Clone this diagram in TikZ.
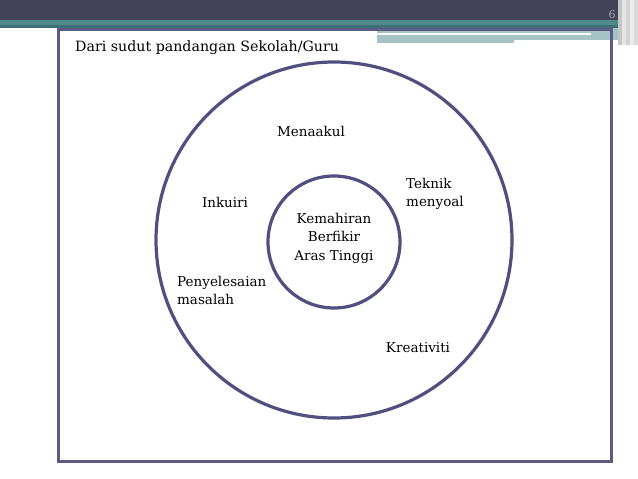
\documentclass[tikz,border=0pt]{standalone}
\usepackage{fontspec}
\setmainfont{DejaVu Serif}
\definecolor{hdark}{HTML}{42425A}
\definecolor{hteal}{HTML}{4E8C8C}
\definecolor{hteald}{HTML}{3F6E78}
\definecolor{hlight}{HTML}{A5C3C5}
\definecolor{frame}{HTML}{5B5B86}
\definecolor{ring}{HTML}{4F4F80}
\tikzset{
  lbl/.style={font=\fontsize{13.5}{18.5}\selectfont, inner sep=0pt, text=black},
  ringst/.style={draw=ring, line width=3.2pt, circle, minimum size=#1, inner sep=0pt},
}
\begin{document}
\begin{tikzpicture}[x=1pt,y=-1pt]
\useasboundingbox (0,0) rectangle (638,479);
\fill[white] (0,0) rectangle (638,479);
% header
\fill[hdark] (0,0) rectangle (638,20);
\fill[hteal] (0,20) rectangle (638,25);
\fill[hteald] (0,25) rectangle (638,27.5);
\fill[hlight] (377,28) rectangle (620,43);
\fill[white] (514,40) rectangle (620,43.5);
\fill[white] (377,33) rectangle (591,35);
\fill[gray!45] (618,0) rectangle (622,45);
\fill[gray!20] (622,0) rectangle (626,45);
\fill[gray!35] (626,0) rectangle (630,45);
\fill[gray!15] (630,0) rectangle (634,45);
\fill[gray!30] (634,0) rectangle (638,45);
\node[font=\fontsize{11}{11}\selectfont, text=gray!70, anchor=base] (pg) at (612,18) {6};
% frame
\node[draw=frame, line width=2.6pt, minimum width=553pt, minimum height=432pt, inner sep=0pt, anchor=north west] (box) at (57,28) {};
\node[lbl, anchor=base west, font=\fontsize{14.2}{16}\selectfont] (title) at (75,52) {Dari sudut pandangan Sekolah/Guru};
% rings
\node[ringst=356pt] (outer) at (334,240) {};
\node[ringst=132pt] (inner) at (334,242) {};
% labels
\node[lbl, align=center] (core) at (334,238) {Kemahiran\\Berfikir\\Aras Tinggi};
\node[lbl] (menaakul) at (311,131) {Menaakul};
\node[lbl, align=left, anchor=north west] (teknik) at (406,178) {Teknik\\menyoal};
\node[lbl] (inkuiri) at (225,202) {Inkuiri};
\node[lbl, align=left, anchor=north west] (penye) at (177,276) {Penyelesaian\\masalah};
\node[lbl] (kreat) at (418,348) {Kreativiti};
\end{tikzpicture}
\end{document}
